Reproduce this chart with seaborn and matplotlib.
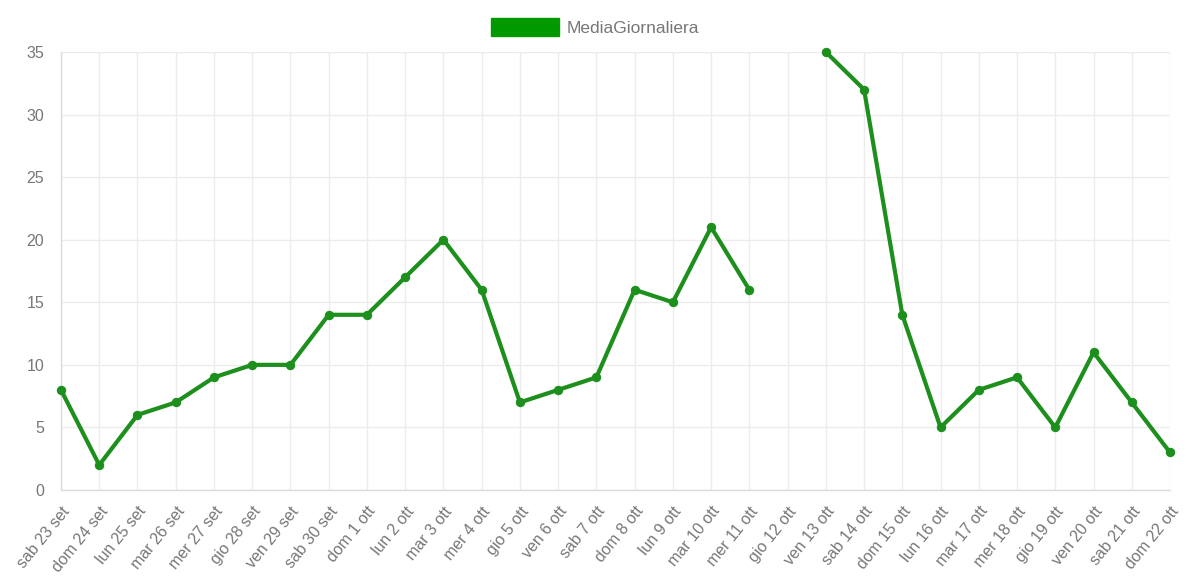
import numpy as np
import pandas as pd
import seaborn as sns
import matplotlib
matplotlib.use("Agg")
import matplotlib.pyplot as plt
from matplotlib.patches import Patch

giorni = ["sab 23 set", "dom 24 set", "lun 25 set", "mar 26 set", "mer 27 set",
          "gio 28 set", "ven 29 set", "sab 30 set", "dom 1 ott", "lun 2 ott",
          "mar 3 ott", "mer 4 ott", "gio 5 ott", "ven 6 ott", "sab 7 ott",
          "dom 8 ott", "lun 9 ott", "mar 10 ott", "mer 11 ott", "gio 12 ott",
          "ven 13 ott", "sab 14 ott", "dom 15 ott", "lun 16 ott", "mar 17 ott",
          "mer 18 ott", "gio 19 ott", "ven 20 ott", "sab 21 ott", "dom 22 ott"]
media_giornaliera = [8, 2, 6, 7, 9, 10, 10, 14, 14, 17, 20, 16, 7, 8, 9, 16, 15,
                     21, 16, np.nan, 35, 32, 14, 5, 8, 9, 5, 11, 7, 3]
y_ticks = [0, 5, 10, 15, 20, 25, 30, 35]

verde = "#1c8f1c"
legenda_verde = "#009a00"
griglia = "#ececec"
testo = "#777777"

df = pd.DataFrame({"pos": np.arange(len(giorni)), "valore": media_giornaliera})
# a missing day breaks the line: give each run of valid days its own unit
df["tratto"] = df["valore"].isna().cumsum()
df = df.dropna()

sns.set_theme(style="white")
plt.rcParams["font.family"] = ["Liberation Sans", "DejaVu Sans"]

fig = plt.figure(figsize=(11.86, 5.86), dpi=100)
ax = fig.add_axes([61 / 1186, 1 - 490 / 586, (1170 - 61) / 1186, (490 - 52) / 586])

sns.lineplot(data=df, x="pos", y="valore", units="tratto", estimator=None,
             color=verde, linewidth=3, marker="o", markersize=6,
             markeredgecolor=verde, markerfacecolor=verde, ax=ax, legend=False,
             zorder=3, clip_on=False)

ax.set_xlim(0, len(giorni) - 1)
ax.set_ylim(0, 35)
ax.set_xticks(np.arange(len(giorni)))
ax.set_xticklabels(giorni, rotation=51, ha="right", rotation_mode="anchor",
                   fontsize=11.5, color=testo)
ax.set_yticks(y_ticks)
ax.set_yticklabels([str(v) for v in y_ticks], fontsize=11.5, color=testo)
ax.set_xlabel("")
ax.set_ylabel("")

ax.grid(True, color=griglia, linewidth=1)
ax.tick_params(axis="both", length=8, color=griglia, width=1, pad=4)
ax.tick_params(axis="x", pad=2)
for side in ["top", "right"]:
    ax.spines[side].set_visible(False)
for side in ["left", "bottom"]:
    ax.spines[side].set_color("#dcdcdc")
    ax.spines[side].set_linewidth(1)

handle = Patch(facecolor=legenda_verde, edgecolor=legenda_verde)
fig.legend([handle], ["MediaGiornaliera"], loc="center", bbox_to_anchor=(0.502, 1 - 27 / 586),
           frameon=False, fontsize=12.5, labelcolor=testo, handlelength=3.9,
           handleheight=1.3, handletextpad=0.45)

fig.savefig("out.png", dpi=100, facecolor="white")
